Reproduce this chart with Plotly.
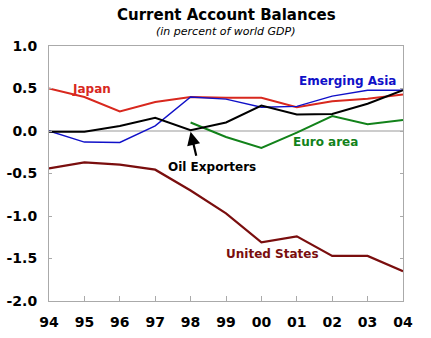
import plotly.graph_objects as go

years = list(range(1994, 2005))
year_labels = ["94", "95", "96", "97", "98", "99", "00", "01", "02", "03", "04"]

japan = [0.50, 0.40, 0.23, 0.34, 0.40, 0.39, 0.39, 0.28, 0.35, 0.38, 0.43]
emerging_asia = [0.00, -0.13, -0.135, 0.06, 0.40, 0.375, 0.28, 0.29, 0.41, 0.48, 0.48]
oil_exporters = [-0.01, -0.01, 0.06, 0.155, 0.01, 0.10, 0.30, 0.195, 0.20, 0.32, 0.48]
euro_years = list(range(1998, 2005))
euro_area = [0.10, -0.07, -0.20, -0.02, 0.175, 0.08, 0.13]
united_states = [-0.44, -0.37, -0.395, -0.455, -0.70, -0.97, -1.31, -1.24, -1.47, -1.47, -1.65]

y_ticks = [1.0, 0.5, 0.0, -0.5, -1.0, -1.5, -2.0]

FONT = "DejaVu Sans"
C_JAPAN = "#D8281E"
C_ASIA = "#1010C8"
C_OIL = "#000000"
C_EURO = "#12821A"
C_US = "#7A0E0E"

fig = go.Figure()
fig.add_trace(go.Scatter(x=years, y=united_states, mode="lines", line=dict(color=C_US, width=2.2)))
fig.add_trace(go.Scatter(x=years, y=japan, mode="lines", line=dict(color=C_JAPAN, width=2)))
fig.add_trace(go.Scatter(x=euro_years, y=euro_area, mode="lines", line=dict(color=C_EURO, width=2)))
fig.add_trace(go.Scatter(x=years, y=emerging_asia, mode="lines", line=dict(color=C_ASIA, width=1.4)))
fig.add_trace(go.Scatter(x=years, y=oil_exporters, mode="lines", line=dict(color=C_OIL, width=2)))

fig.add_hline(y=0, line=dict(color="#999999", width=1), layer="below")

labels = [
    ("Japan", 1994.6, 0.50, C_JAPAN, "left"),
    ("Emerging Asia", 2003.85, 0.59, C_ASIA, "right"),
    ("Euro area", 2001.8, -0.13, C_EURO, "center"),
    ("Oil Exporters", 1998.6, -0.42, C_OIL, "center"),
    ("United States", 2000.3, -1.45, C_US, "center"),
]
for text, x, y, c, al in labels:
    fig.add_annotation(x=x, y=y, text="<b>%s</b>" % text, showarrow=False,
                       xanchor=al, font=dict(family=FONT, size=12, color=c))

fig.add_annotation(x=1998.0, y=-0.01, ax=1998.17, ay=-0.31, axref="x", ayref="y",
                   text="", showarrow=True, arrowhead=2, arrowsize=1.2,
                   arrowwidth=2.2, arrowcolor="#000000")

fig.add_annotation(x=0.5, y=1.12, xref="paper", yref="paper", xanchor="center", yanchor="middle",
                   text="<b>Current Account Balances</b>", showarrow=False,
                   font=dict(family=FONT, size=15, color="black"))
fig.add_annotation(x=0.5, y=1.055, xref="paper", yref="paper", xanchor="center", yanchor="middle",
                   text="<i>(in percent of world GDP)</i>", showarrow=False,
                   font=dict(family=FONT, size=11, color="black"))

fig.update_layout(
    width=431, height=338,
    margin=dict(l=49, r=28, t=46, b=37),
    paper_bgcolor="white", plot_bgcolor="white",
    showlegend=False,
    xaxis=dict(
        range=[1994, 2004], tickvals=years, ticktext=year_labels, automargin=False,
        showgrid=False, zeroline=False, showline=True, linecolor="#AAAAAA", mirror=True,
        ticks="inside", ticklen=5, tickcolor="#AAAAAA", ticklabelstandoff=8,
        tickfont=dict(family=FONT, size=14, color="black", weight="bold"),
    ),
    yaxis=dict(
        range=[-2.0, 1.0], tickvals=y_ticks, ticktext=["%.1f" % v for v in y_ticks], automargin=False,
        showgrid=False, zeroline=False, showline=True, linecolor="#AAAAAA", mirror="ticks",
        ticks="inside", ticklen=3, tickcolor="#AAAAAA", ticklabelstandoff=8,
        tickfont=dict(family=FONT, size=14, color="black", weight="bold"),
    ),
)

fig.write_html("out.html")
